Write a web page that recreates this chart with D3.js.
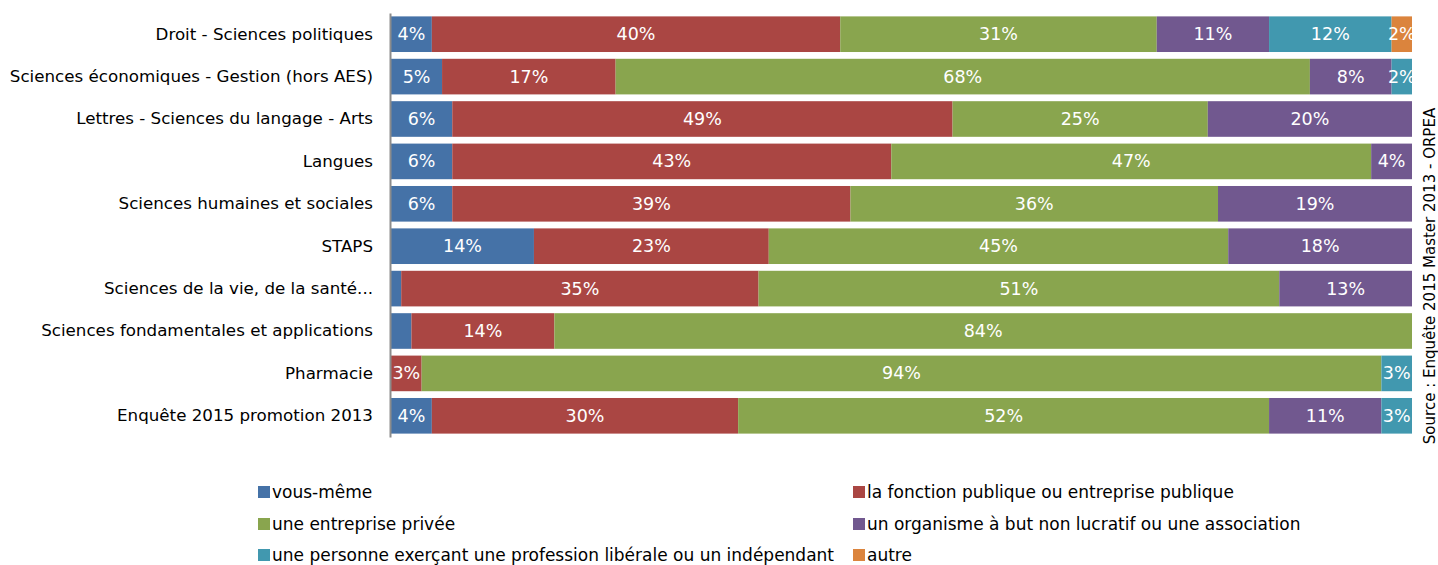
<!DOCTYPE html>
<html><head><meta charset="utf-8">
<script src="https://cdn.jsdelivr.net/npm/d3@7"></script>
<style>body{margin:0;background:#fff;} text{font-family:"DejaVu Sans",sans-serif;}</style>
</head><body>
<svg id="c" width="1438" height="565"></svg>
<script>
const categories = ["Droit - Sciences politiques","Sciences économiques - Gestion (hors AES)","Lettres - Sciences du langage - Arts","Langues","Sciences humaines et sociales","STAPS","Sciences de la vie, de la santé...","Sciences fondamentales et applications","Pharmacie","Enquête 2015 promotion 2013"];
const seriesNames = ["vous-même","la fonction publique ou entreprise publique","une entreprise privée","un organisme à but non lucratif ou une association","une personne exerçant une profession libérale ou un indépendant","autre"];
const vousMeme      = [4,5,6,6,6,14,1,2,0,4];
const fonctionPub   = [40,17,49,43,39,23,35,14,3,30];
const entreprise    = [31,68,25,47,36,45,51,84,94,52];
const organisme     = [11,8,20,4,19,18,13,0,0,11];
const liberale      = [12,2,0,0,0,0,0,0,3,3];
const autre         = [2,0,0,0,0,0,0,0,0,0];
const hiddenLabels  = [[6,0],[7,0]]; // [row, series] labels not shown in the original
const colors = ["#4572A7","#AA4643","#89A54E","#71588F","#4198AF","#DB843D"];
const sourceText = "Source : Enquête 2015 Master 2013 - ORPEA";

const seriesVals = [vousMeme,fonctionPub,entreprise,organisme,liberale,autre];
const rows = categories.map((c,i)=>{const o={cat:c};seriesNames.forEach((s,j)=>o[s]=seriesVals[j][i]);return o;});
const stacked = d3.stack().keys(seriesNames)(rows);

const svg = d3.select("#c");
const x = d3.scaleLinear().domain([0,100]).range([391,1412]);
const y = d3.scaleBand().domain(categories).range([13,437]).paddingInner(0.16).paddingOuter(0.08);

svg.append("defs").append("clipPath").attr("id","pc").append("rect")
  .attr("x",391).attr("y",0).attr("width",1021).attr("height",450);

const g = svg.append("g").attr("clip-path","url(#pc)");
stacked.forEach((layer,j)=>{
  const lg = g.append("g").attr("fill",colors[j]);
  layer.forEach((d,i)=>{
    if(d[1]-d[0]<=0) return;
    lg.append("rect").attr("x",x(d[0])).attr("y",y(categories[i]))
      .attr("width",x(d[1])-x(d[0])).attr("height",y.bandwidth());
  });
});
stacked.forEach((layer,j)=>{
  layer.forEach((d,i)=>{
    const v=d[1]-d[0];
    if(v<=0) return;
    if(hiddenLabels.some(h=>h[0]===i&&h[1]===j)) return;
    g.append("text").attr("x",(x(d[0])+x(d[1]))/2).attr("y",y(categories[i])+y.bandwidth()/2)
      .attr("text-anchor","middle").attr("dominant-baseline","central")
      .attr("fill","#fff").attr("font-size",17.5).text(v+"%");
  });
});

// axis
const ax = svg.append("g").attr("transform","translate(390,0)")
  .call(d3.axisLeft(y).tickSize(0).tickPadding(17));
ax.select(".domain").attr("stroke","#8c8c8c").attr("stroke-width",2);
ax.selectAll("text").attr("font-size",16.7).attr("fill","#000").attr("font-family","DejaVu Sans");

// legend
const legPos = [[258,492],[853,492],[258,524],[853,524],[258,555],[853,555]];
seriesNames.forEach((s,j)=>{
  const [lx,ly]=legPos[j];
  svg.append("rect").attr("x",lx).attr("y",ly-6).attr("width",12).attr("height",12).attr("fill",colors[j]);
  svg.append("text").attr("x",lx+14).attr("y",ly).attr("dominant-baseline","central")
    .attr("font-size",17).attr("fill","#000").text(s);
});

svg.append("text").attr("transform","translate(1430,276) rotate(-90)")
  .attr("text-anchor","middle").attr("dominant-baseline","central")
  .attr("font-size",15).attr("fill","#000").text(sourceText);
</script>
</body></html>
